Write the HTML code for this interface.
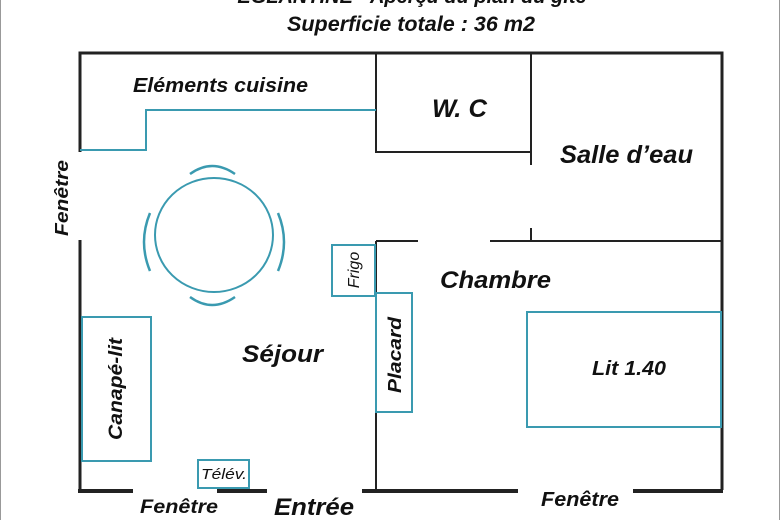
<!DOCTYPE html>
<html><head><meta charset="utf-8"><style>
body{margin:0;background:#fff}
svg{display:block}
text{font-family:"Liberation Sans",Arial,sans-serif;font-style:italic;font-weight:bold;fill:#111}
text.n{font-weight:normal}
</style></head><body>
<svg width="780" height="520" viewBox="0 0 780 520" xmlns="http://www.w3.org/2000/svg">
<rect x="0.5" y="-1" width="779" height="522" fill="none" stroke="#999" stroke-width="1"/>
<text x="412" y="3" font-size="20" text-anchor="middle">EGLANTINE - Aperçu du plan du gîte</text>
<text x="287" y="31" font-size="21" textLength="248" lengthAdjust="spacingAndGlyphs">Superficie totale : 36 m2</text>
<g stroke="#222" fill="none">
<path d="M80 152 V53 H722 V490" stroke-width="3"/>
<path d="M80 240 V491" stroke-width="3"/>
<path d="M78 491 H133 M217 491 H267 M362 491 H518 M633 491 H723" stroke-width="4"/>
<path d="M376 53 V152 H531 M531 53 V165 M531 228 V241 M376 241 H418 M490 241 H722 M376 241 V491" stroke-width="2"/>
</g>
<g stroke="#3a9ab0" fill="none" stroke-width="2">
<path d="M80 150 H146 V110 H376"/>
<ellipse cx="214" cy="235" rx="59" ry="57"/>
<path d="M190 174 Q212 158 235 174" stroke-width="2.5"/>
<path d="M190 297 Q212 313 235 297" stroke-width="2.5"/>
<path d="M150 213 Q138 242 150 271" stroke-width="2.5"/>
<path d="M278 213 Q290 242 278 271" stroke-width="2.5"/>
<rect x="332" y="245" width="43" height="51"/>
<rect x="376" y="293" width="36" height="119"/>
<rect x="82" y="317" width="69" height="144"/>
<rect x="198" y="460" width="51" height="28"/>
<rect x="527" y="312" width="194" height="115"/>
</g>
<text x="133" y="92" font-size="20" textLength="175" lengthAdjust="spacingAndGlyphs">Eléments cuisine</text>
<text x="432" y="117" font-size="25" textLength="55" lengthAdjust="spacingAndGlyphs">W. C</text>
<text x="560" y="163" font-size="25" textLength="133" lengthAdjust="spacingAndGlyphs">Salle d’eau</text>
<text x="440" y="288" font-size="24" textLength="111" lengthAdjust="spacingAndGlyphs">Chambre</text>
<text x="242" y="362" font-size="24" textLength="81" lengthAdjust="spacingAndGlyphs">Séjour</text>
<text x="592" y="375" font-size="20" textLength="74" lengthAdjust="spacingAndGlyphs">Lit 1.40</text>
<text transform="translate(401,355) rotate(-90)" font-size="18" text-anchor="middle" textLength="76" lengthAdjust="spacingAndGlyphs">Placard</text>
<text transform="translate(122,389) rotate(-90)" font-size="19" text-anchor="middle" textLength="102" lengthAdjust="spacingAndGlyphs">Canapé-lit</text>
<text class="n" transform="translate(359,270) rotate(-90)" font-size="16" text-anchor="middle">Frigo</text>
<text class="n" x="224" y="479" font-size="15" text-anchor="middle" textLength="46" lengthAdjust="spacingAndGlyphs">Télév.</text>
<text transform="translate(68,198) rotate(-90)" font-size="18" text-anchor="middle" textLength="76" lengthAdjust="spacingAndGlyphs">Fenêtre</text>
<text x="140" y="513" font-size="19" textLength="78" lengthAdjust="spacingAndGlyphs">Fenêtre</text>
<text x="274" y="515" font-size="24" textLength="80" lengthAdjust="spacingAndGlyphs">Entrée</text>
<text x="541" y="506" font-size="20" textLength="78" lengthAdjust="spacingAndGlyphs">Fenêtre</text>
</svg>
</body></html>
